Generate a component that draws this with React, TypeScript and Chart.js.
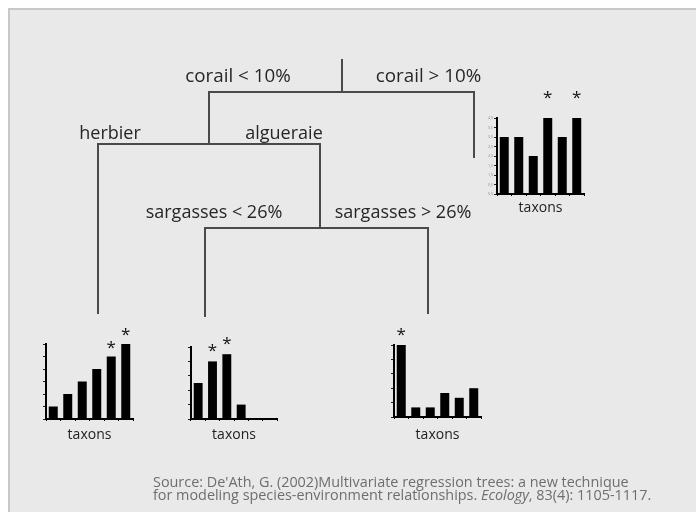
import React, { useEffect, useRef } from "react";
import { Chart, registerables } from "chart.js";

Chart.register(...registerables);

const FONT = "'Open Sans', 'Noto Sans', 'DejaVu Sans', sans-serif";

// ---------- data ----------
const TAXA = ["taxon 1", "taxon 2", "taxon 3", "taxon 4", "taxon 5", "taxon 6"];

const CORAIL_HIGH_VALUES = [3, 3, 2, 4, 3, 4];
const CORAIL_HIGH_STARS = [false, false, false, true, false, true];
const HERBIER_VALUES = [1, 2, 3, 4, 5, 6];
const HERBIER_STARS = [false, false, false, false, true, true];
const SARG_LOW_VALUES = [2.5, 4, 4.5, 1, 0, 0];
const SARG_LOW_STARS = [false, true, true, false, false, false];
const SARG_HIGH_VALUES = [15, 2, 2, 5, 4, 6];
const SARG_HIGH_STARS = [true, false, false, false, false, false];

const SPLIT_LABELS = [
  "corail < 10%",
  "corail > 10%",
  "herbier",
  "algueraie",
  "sargasses < 26%",
  "sargasses > 26%",
];
const AXIS_TITLE = "taxons";
const SOURCE_LINE_1 =
  "Source: De'Ath, G. (2002)Multivariate regression trees: a new technique";
const SOURCE_LINE_2_A = "for modeling species-environment relationships. ";
const SOURCE_LINE_2_B = "Ecology";
const SOURCE_LINE_2_C = ", 83(4): 1105-1117.";

// ---------- layout (diagram geometry, in page pixels) ----------
const PAGE_W = 696;
const PAGE_H = 512;
const TREE_PATHS = [
  [[342, 59], [342, 92]],
  [[209, 144], [209, 92], [474, 92], [474, 158]],
  [[98, 314], [98, 144], [320, 144], [320, 228]],
  [[205, 317], [205, 228], [428, 228], [428, 314]],
];
const LABEL_POS = [
  [238, 82],
  [428.5, 82],
  [110, 139],
  [284, 139],
  [214, 218],
  [403, 218],
];
const LABEL_SIZES = [18.8, 18.8, 18, 18, 18, 18];
const SOURCE_POS = [153, 487, 500];
const SOURCE_SIZE = 14.4;

type Leaf = {
  values: number[];
  stars: boolean[];
  max: number;
  step: number;
  area: number[]; // left, top, width, height of the plot area
  starGap: number;
  titleMid: number;
  tickLabels: boolean;
};

const LEAVES: Leaf[] = [
  { values: CORAIL_HIGH_VALUES, stars: CORAIL_HIGH_STARS, max: 4, step: 0.5, area: [497, 118, 87, 76], starGap: 23, titleMid: 14.3, tickLabels: true },
  { values: HERBIER_VALUES, stars: HERBIER_STARS, max: 6, step: 1, area: [46, 344, 87, 75], starGap: 12, titleMid: 16, tickLabels: false },
  { values: SARG_LOW_VALUES, stars: SARG_LOW_STARS, max: 5, step: 1, area: [191, 347, 86, 72], starGap: 13.5, titleMid: 16, tickLabels: false },
  { values: SARG_HIGH_VALUES, stars: SARG_HIGH_STARS, max: 15, step: 3, area: [394, 345, 87, 72], starGap: 13, titleMid: 18, tickLabels: false },
];

const YW = 12; // y axis box width
const XH = 30; // x axis box height
const PT = 34; // top padding (room for stars)
const PR = 4;

// ---------- plugins ----------
const treeLabelPlugin = {
  id: "treeLabels",
  afterDatasetsDraw(chart: any) {
    const { ctx, scales } = chart;
    const sx = scales.x;
    const sy = scales.y;
    ctx.save();
    ctx.fillStyle = "#262626";
    ctx.textAlign = "center";
    ctx.textBaseline = "alphabetic";
    SPLIT_LABELS.forEach((t, i) => {
      const [lx, ly] = LABEL_POS[i];
      ctx.font = `${LABEL_SIZES[i]}px ${FONT}`;
      ctx.fillText(t, sx.getPixelForValue(lx), sy.getPixelForValue(ly));
    });
    ctx.fillStyle = "#6e6e6e";
    ctx.textAlign = "left";
    const x0 = sx.getPixelForValue(SOURCE_POS[0]);
    ctx.font = `${SOURCE_SIZE}px ${FONT}`;
    ctx.fillText(SOURCE_LINE_1, x0, sy.getPixelForValue(SOURCE_POS[1]));
    let cx = x0;
    const y2 = sy.getPixelForValue(SOURCE_POS[2]);
    ctx.fillText(SOURCE_LINE_2_A, cx, y2);
    cx += ctx.measureText(SOURCE_LINE_2_A).width;
    ctx.font = `italic ${SOURCE_SIZE}px ${FONT}`;
    ctx.fillText(SOURCE_LINE_2_B, cx, y2);
    cx += ctx.measureText(SOURCE_LINE_2_B).width;
    ctx.font = `${SOURCE_SIZE}px ${FONT}`;
    ctx.fillText(SOURCE_LINE_2_C, cx, y2);
    ctx.restore();
  },
};

const starPlugin = {
  id: "stars",
  afterDatasetsDraw(chart: any, _args: any, opts: any) {
    const { ctx } = chart;
    const meta = chart.getDatasetMeta(0);
    ctx.save();
    ctx.fillStyle = "#111";
    ctx.font = `17px ${FONT}`;
    ctx.textAlign = "center";
    ctx.textBaseline = "alphabetic";
    const m = ctx.measureText("*");
    const off = (m.actualBoundingBoxAscent - m.actualBoundingBoxDescent) / 2;
    (opts.stars || []).forEach((s: boolean, i: number) => {
      if (!s) return;
      const el = meta.data[i];
      ctx.fillText("*", el.x, el.y - opts.gap + off);
    });
    ctx.restore();
  },
};

function TreeChart() {
  const ref = useRef<HTMLCanvasElement>(null);
  useEffect(() => {
    const chart = new Chart(ref.current!, {
      type: "scatter",
      data: {
        datasets: TREE_PATHS.map((p) => ({
          data: p.map(([x, y]) => ({ x, y })),
          showLine: true,
          pointRadius: 0,
          borderColor: "#4a4a4a",
          borderWidth: 2,
          borderJoinStyle: "miter" as const,
          borderCapStyle: "butt" as const,
          tension: 0,
          fill: false,
        })),
      },
      options: {
        responsive: false,
        animation: false,
        layout: { padding: 0 },
        events: [],
        plugins: { legend: { display: false }, tooltip: { enabled: false } },
        scales: {
          x: { type: "linear", min: 0, max: PAGE_W, display: false },
          y: { type: "linear", min: 0, max: PAGE_H, reverse: true, display: false },
        },
      },
      plugins: [treeLabelPlugin],
    });
    return () => chart.destroy();
  }, []);
  return (
    <canvas
      ref={ref}
      width={PAGE_W}
      height={PAGE_H}
      style={{ position: "absolute", left: 0, top: 0, width: PAGE_W, height: PAGE_H }}
    />
  );
}

function LeafChart({ leaf }: { leaf: Leaf }) {
  const ref = useRef<HTMLCanvasElement>(null);
  const [ax, ay, aw, ah] = leaf.area;
  const cw = aw + YW + PR;
  const ch = ah + PT + XH;
  useEffect(() => {
    const chart = new Chart(ref.current!, {
      type: "bar",
      data: {
        labels: TAXA,
        datasets: [
          {
            data: leaf.values,
            backgroundColor: "#000",
            borderWidth: 0,
            barPercentage: 0.62,
            categoryPercentage: 1,
          },
        ],
      },
      options: {
        responsive: false,
        animation: false,
        events: [],
        layout: { padding: { left: 0, top: PT, right: PR, bottom: 0 } },
        plugins: {
          legend: { display: false },
          tooltip: { enabled: false },
          stars: { stars: leaf.stars, gap: leaf.starGap },
        } as any,
        scales: {
          x: {
            type: "category",
            offset: true,
            ticks: { display: false },
            grid: { offset: true, drawOnChartArea: false, drawTicks: true, tickLength: 2, color: "#000", lineWidth: 1 },
            border: { display: true, color: "#000", width: 2 },
            title: {
              display: true,
              text: AXIS_TITLE,
              color: "#222",
              font: { family: FONT, size: 14 },
              padding: { top: 0, bottom: XH - 8.4 - leaf.titleMid },
            },
            afterFit: (s: any) => {
              s.height = XH;
            },
          },
          y: {
            type: "linear",
            min: 0,
            max: leaf.max,
            ticks: {
              stepSize: leaf.step,
              display: leaf.tickLabels,
              color: "#888",
              font: { family: FONT, size: 3.5 },
              padding: 1,
              callback: (v: any) => Number(v).toFixed(1).replace(".", ","),
            },
            grid: { drawOnChartArea: false, drawTicks: true, tickLength: 3, color: "#222", lineWidth: 1 },
            border: { display: true, color: "#000", width: 2 },
            afterFit: (s: any) => {
              s.width = YW;
            },
          },
        },
      } as any,
      plugins: [starPlugin],
    });
    return () => chart.destroy();
  }, [leaf]);
  return (
    <canvas
      ref={ref}
      width={cw}
      height={ch}
      style={{ position: "absolute", left: ax - YW, top: ay - PT, width: cw, height: ch }}
    />
  );
}

export default function App() {
  return (
    <div style={{ position: "absolute", left: 0, top: 0, width: PAGE_W, height: PAGE_H, overflow: "hidden", background: "#fff" }}>
      <div
        style={{
          position: "absolute",
          left: 8,
          top: 8,
          width: PAGE_W - 8,
          height: PAGE_H - 8,
          boxSizing: "border-box",
          background: "#e9e9e9",
          borderLeft: "2px solid #c8c8c8",
          borderTop: "2px solid #c8c8c8",
        }}
      />
      <TreeChart />
      {LEAVES.map((l, i) => (
        <LeafChart key={i} leaf={l} />
      ))}
    </div>
  );
}
